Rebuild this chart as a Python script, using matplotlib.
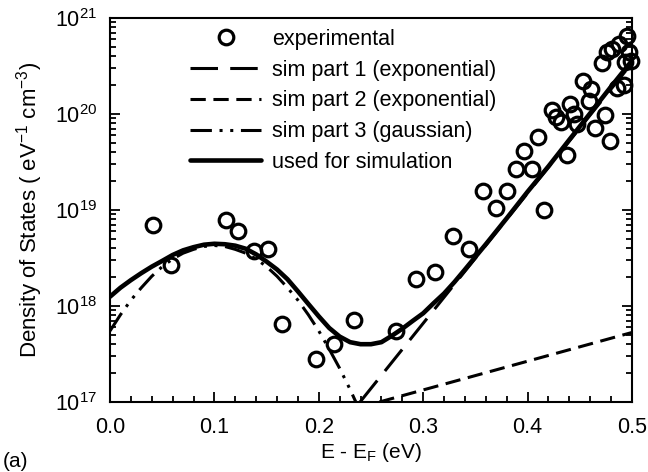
import matplotlib
matplotlib.use("Agg")
import matplotlib.pyplot as plt
from matplotlib.ticker import MultipleLocator, LogLocator, NullFormatter

plt.rcParams['font.family'] = ['Liberation Sans', 'DejaVu Sans']
plt.rcParams['mathtext.default'] = 'regular'

# experimental points (E - EF in eV, DOS in eV^-1 cm^-3)
exp_x = [0.041, 0.058, 0.111, 0.123, 0.138, 0.151, 0.165, 0.197, 0.215, 0.234,
         0.274, 0.293, 0.311, 0.329, 0.344, 0.357, 0.370, 0.380, 0.389, 0.397,
         0.404, 0.410, 0.416, 0.423, 0.427, 0.432, 0.438, 0.441, 0.444, 0.447,
         0.453, 0.459, 0.461, 0.465, 0.471, 0.474, 0.476, 0.479, 0.481, 0.486,
         0.488, 0.492, 0.493, 0.495, 0.497, 0.499]
exp_y = [7.0e18, 2.7e18, 7.9e18, 6.0e18, 3.7e18, 3.9e18, 6.5e17, 2.8e17, 4.0e17, 7.2e17,
         5.5e17, 1.93e18, 2.28e18, 5.3e18, 3.9e18, 1.56e19, 1.06e19, 1.56e19, 2.65e19, 4.1e19,
         2.65e19, 5.7e19, 9.9e18, 1.11e20, 9.3e19, 8.3e19, 3.7e19, 1.26e20, 1.0e20, 7.9e19,
         2.2e20, 1.37e20, 1.8e20, 7.1e19, 3.4e20, 9.7e19, 4.45e20, 5.2e19, 4.8e20, 1.85e20,
         5.4e20, 2.0e20, 3.5e20, 6.5e20, 4.45e20, 3.6e20]

# sim part 1 (exponential)
p1_x = [0.2395, 0.50]
p1_y = [1.0e17, 3.4e20]

# sim part 2 (exponential)
p2_x = [0.258, 0.50]
p2_y = [1.0e17, 5.3e17]

# sim part 3 (gaussian)
g_x = [0.00, 0.01, 0.02, 0.03, 0.04, 0.05, 0.06, 0.07, 0.08, 0.09, 0.10, 0.11, 0.12,
       0.13, 0.14, 0.15, 0.16, 0.17, 0.18, 0.19, 0.20, 0.21, 0.22, 0.23, 0.24]
g_y = [5.5e17, 8.1e17, 1.15e18, 1.55e18, 2.04e18, 2.57e18, 3.09e18, 3.55e18, 3.89e18,
       4.17e18, 4.27e18, 4.17e18, 3.89e18, 3.55e18, 3.09e18, 2.57e18, 2.04e18, 1.55e18,
       1.15e18, 8.1e17, 5.5e17, 3.55e17, 2.24e17, 1.35e17, 7.8e16]

# used for simulation
s_x = [0.00, 0.01, 0.02, 0.03, 0.04, 0.05, 0.06, 0.07, 0.08, 0.09, 0.10, 0.11, 0.12,
       0.13, 0.14, 0.15, 0.16, 0.17, 0.18, 0.19, 0.20, 0.21, 0.22, 0.23, 0.24, 0.25,
       0.26, 0.27, 0.28, 0.29, 0.30, 0.31, 0.32, 0.33, 0.34, 0.36, 0.38, 0.40, 0.42,
       0.44, 0.46, 0.48, 0.50]
s_y = [1.25e18, 1.55e18, 1.86e18, 2.2e18, 2.57e18, 2.95e18, 3.4e18, 3.8e18, 4.1e18,
       4.35e18, 4.45e18, 4.4e18, 4.25e18, 3.95e18, 3.45e18, 2.9e18, 2.4e18, 1.9e18,
       1.42e18, 1.05e18, 7.8e17, 5.9e17, 4.8e17, 4.2e17, 4.0e17, 4.0e17, 4.2e17,
       4.9e17, 5.8e17, 7.0e17, 8.4e17, 1.07e18, 1.35e18, 1.78e18, 2.4e18, 4.4e18,
       8.2e18, 1.55e19, 2.85e19, 5.4e19, 1.02e20, 1.93e20, 3.6e20]

fig = plt.figure(figsize=(6.48, 4.72), dpi=100)
ax = fig.add_axes([110/648, 1-402/472, 522/648, 384/472])

ax.plot(p1_x, p1_y, color='black', lw=2.2, dashes=(9, 4), label='sim part 1 (exponential)')
ax.plot(p2_x, p2_y, color='black', lw=2.2, dashes=(5, 2.5), label='sim part 2 (exponential)')
ax.plot(g_x, g_y, color='black', lw=2.2, dashes=(7, 2.5, 1, 2.5, 1, 2.5), label='sim part 3 (gaussian)')
ax.plot(s_x, s_y, color='black', lw=3.3, solid_capstyle='round', label='used for simulation')
ax.plot(exp_x, exp_y, linestyle='none', marker='o', ms=10.5, mfc='none', mec='black', mew=2.3,
        label='experimental', clip_on=False)

ax.set_yscale('log')
ax.set_xlim(0.0, 0.5)
ax.set_ylim(1e17, 1e21)

ax.xaxis.set_major_locator(MultipleLocator(0.1))
ax.xaxis.set_minor_locator(MultipleLocator(0.02))
ax.xaxis.set_major_formatter(matplotlib.ticker.FormatStrFormatter('%.1f'))
ax.yaxis.set_major_locator(LogLocator(base=10, numticks=10))
ax.yaxis.set_minor_locator(LogLocator(base=10, subs=range(2, 10), numticks=20))
ax.yaxis.set_minor_formatter(NullFormatter())

ax.tick_params(which='both', direction='in', top=False, right=True, width=1.3)
ax.tick_params(which='major', length=7, labelsize=15.5)
ax.tick_params(axis='x', which='major', pad=11)
ax.tick_params(axis='y', which='major', pad=9)
ax.tick_params(which='minor', length=4)
for sp in ax.spines.values():
    sp.set_linewidth(1.5)

ax.set_xlabel('E - E$_F$ (eV)', fontsize=15, labelpad=2)
ax.set_ylabel('Density of States ( eV$^{-1}$ cm$^{-3}$)', fontsize=16, labelpad=7)

handles, labels = ax.get_legend_handles_labels()
order = [4, 0, 1, 2, 3]
leg = ax.legend([handles[i] for i in order], [labels[i] for i in order],
                loc='upper left', bbox_to_anchor=(190/648, 1-29/472),
                bbox_transform=fig.transFigure, frameon=False, fontsize=15.5,
                handlelength=3.3, handletextpad=0.5, labelspacing=0.45,
                borderpad=0, borderaxespad=0)

fig.text(3/648, 1-467/472, '(a)', fontsize=15)

fig.savefig('out.png', dpi=100)
